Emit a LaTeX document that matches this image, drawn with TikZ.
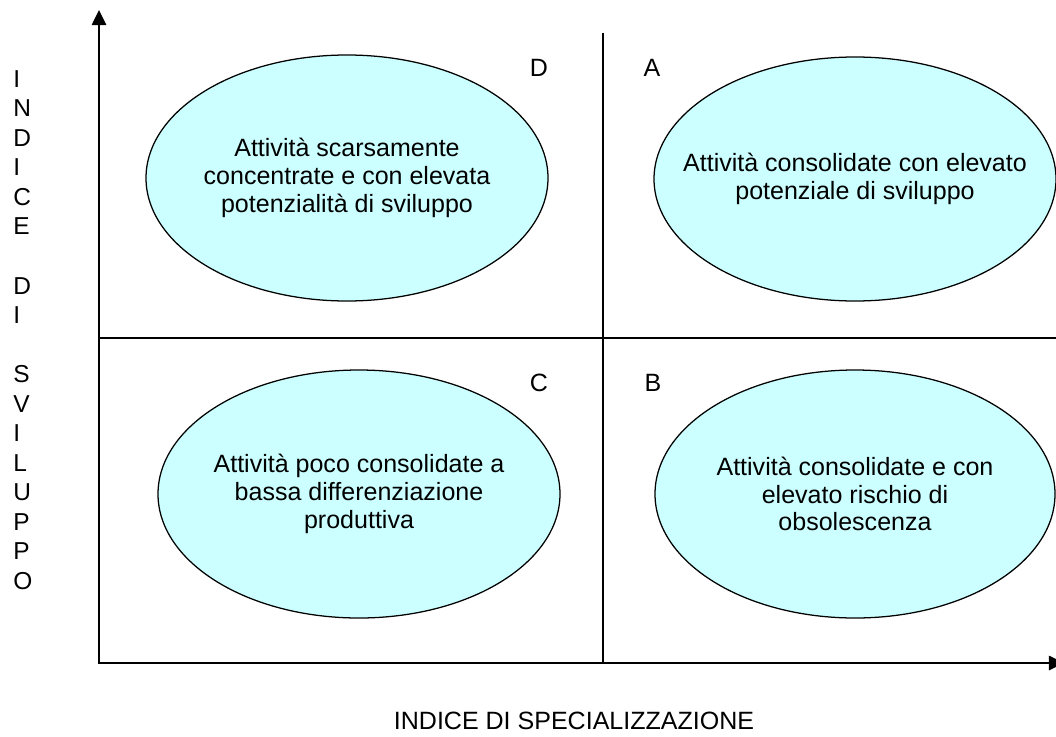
\documentclass[tikz,border=0pt]{standalone}
\usepackage{fontspec}
\setmainfont{Liberation Sans}
\usetikzlibrary{arrows.meta}
\definecolor{quadfill}{RGB}{204,255,255}
\tikzset{>={Triangle[length=10.7pt, width=10pt]}}

\begin{document}
\begin{tikzpicture}[x=0.025cm, y=-0.025cm,
    font=\fontsize{17.8}{19.8}\selectfont,
    axis/.style={line width=1.8pt},
    divider/.style={line width=1.3pt},
    quad/.style={draw, line width=0.9pt, fill=quadfill},
    quadtext/.style={align=center, inner sep=0pt},
    tag/.style={inner sep=0pt}]
    \useasboundingbox (0,0) rectangle (1056,736);
    \coordinate (O) at (99,663);
    \coordinate (Y) at (99,10);
    \coordinate (X) at (1064,663);
    \coordinate (Vt) at (603,33);
    \coordinate (Vb) at (603,663);
    \coordinate (Hl) at (99,338);
    \coordinate (Hr) at (1056,338);
    \draw[divider] (Vt) -- (Vb) (Hl) -- (Hr);
    \draw[axis, <->] (Y) -- (O) -- (X);
    % quadranti
    \coordinate (D) at (347,178);
    \coordinate (A) at (855,179);
    \coordinate (C) at (359,494);
    \coordinate (B) at (855,494);
    \draw[quad] (D) ellipse [x radius=201, y radius=123];
    \draw[quad] (A) ellipse [x radius=201, y radius=122];
    \draw[quad] (C) ellipse [x radius=201, y radius=124];
    \draw[quad] (B) ellipse [x radius=200, y radius=124];
    \node[quadtext] (textD) at (D) {Attività scarsamente\\concentrate e con elevata\\potenzialità di sviluppo};
    \node[quadtext] (textA) at (A) {Attività consolidate con elevato\\potenziale di sviluppo};
    \node[quadtext] (textC) at (C) {Attività poco consolidate a\\bassa differenziazione\\produttiva};
    \node[quadtext] (textB) at (B) {Attività consolidate e con\\elevato rischio di\\obsolescenza};
    \node[tag] (tagD) at (539,68) {D};
    \node[tag] (tagA) at (652,68) {A};
    \node[tag] (tagC) at (539,383) {C};
    \node[tag] (tagB) at (653,383) {B};
    % assi
    \node[tag, anchor=west, align=left, font=\fontsize{17.4}{21}\selectfont] (ylab) at (13,330)
        {I\\N\\D\\I\\C\\E\\\mbox{}\\D\\I\\\mbox{}\\S\\V\\I\\L\\U\\P\\P\\O};
    \node[tag] (xlab) at (574,721) {INDICE DI SPECIALIZZAZIONE};
\end{tikzpicture}
\end{document}
